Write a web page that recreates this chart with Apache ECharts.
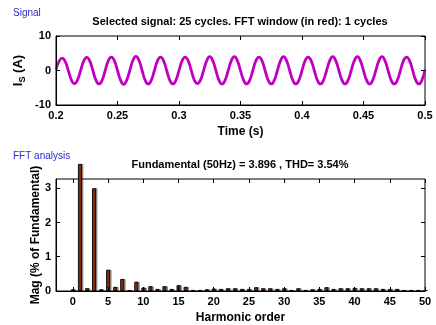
<!DOCTYPE html>
<html>
<head>
<meta charset="utf-8">
<script src="https://cdn.jsdelivr.net/npm/echarts@6/dist/echarts.min.js"></script>
<style>
  html, body { margin: 0; padding: 0; background: #fff; }
  #chart { width: 436px; height: 325px; }
</style>
</head>
<body>
<div id="chart"></div>
<script>
// 信号数据 (Is, A)，采样步长 0.0025 s，每周期 8 点
var startTime = 0.2;
var sampleStep = 0.0025;
var signalValues = [
  0.3, 2.7, 3.6, 2.6, 0, -2.7, -3.8, -2.7,
  0, 2.7, 3.8, 2.7, 0, -2.8, -3.9, -2.8,
  0, 2.8, 3.9, 2.8, 0, -2.8, -4.0, -2.8,
  0, 2.9, 4.1, 2.9, 0, -2.8, -3.9, -2.8,
  0, 2.8, 3.9, 2.8, 0, -2.8, -3.9, -2.8,
  0, 2.8, 3.9, 2.8, 0, -2.8, -3.8, -2.7,
  0, 2.8, 4.0, 2.8, 0, -2.8, -3.9, -2.8,
  0, 2.8, 4.0, 2.8, 0, -2.8, -3.9, -2.8,
  0, 2.8, 3.9, 2.8, 0, -2.8, -3.9, -2.8,
  0, 2.8, 4.0, 2.8, 0, -2.8, -3.9, -2.8,
  0, 2.8, 3.9, 2.8, 0, -2.8, -3.9, -2.8,
  0, 2.8, 4.0, 2.8, 0, -2.8, -3.9, -2.8,
  0, 2.8, 4.0, 2.8, 0, -2.8, -3.9, -2.8,
  0, 2.8, 4.0, 2.8, 0, -2.8, -3.9, -2.8,
  0, 2.8, 3.9, 2.8, 0, -2.8, -3.9, -2.8,
  0.2
];
var timeTicks = [0.2, 0.25, 0.3, 0.35, 0.4, 0.45, 0.5];
var signalYTicks = [-10, 0, 10];

// FFT 数据 (% of Fundamental)，谐波次数 0..50
var harmonicOrders = [];
for (var h = 0; h <= 50; h++) harmonicOrders.push(h);
var harmonicMags = [
  0.05, 3.71, 0.08, 3.0, 0.05, 0.62, 0.12, 0.35, 0.03, 0.27,
  0.10, 0.14, 0.06, 0.14, 0.06, 0.17, 0.12, 0.03, 0.03, 0.05,
  0.07, 0.06, 0.08, 0.08, 0.06, 0.06, 0.11, 0.08, 0.08, 0.06,
  0.08, 0.03, 0.08, 0.03, 0.05, 0.06, 0.11, 0.06, 0.08, 0.08,
  0.09, 0.08, 0.08, 0.08, 0.06, 0.06, 0.06, 0.03, 0.03, 0.03,
  0.03
];
var harmonicTicks = [0, 5, 10, 15, 20, 25, 30, 35, 40, 45, 50];
var magTicks = [0, 1, 2, 3];

var signalData = signalValues.map(function (v, i) {
  return [startTime + i * sampleStep, v];
});
var fftData = harmonicOrders.map(function (h, i) {
  return [h, harmonicMags[i]];
});

var font = 'Liberation Sans, Arial, sans-serif';
var tickLabel = { color: '#000', fontFamily: font, fontWeight: 'bold', fontSize: 11 };

function mainAxis(base) {
  return Object.assign({
    axisLine: { show: true, onZero: false, lineStyle: { color: '#000', width: 1 } },
    axisTick: { show: true, inside: true, length: 4, lineStyle: { color: '#000' } },
    splitLine: { show: false },
    nameMoveOverlap: false,
    z: 5
  }, base);
}
function mirrorAxis(base) {
  return Object.assign({
    axisLine: { show: false, onZero: false },
    axisLabel: { show: false },
    axisTick: { show: true, inside: true, length: 4, lineStyle: { color: '#000' } },
    splitLine: { show: false },
    z: 5
  }, base);
}

var chart = echarts.init(document.getElementById('chart'), null, { renderer: 'canvas' });

var option = {
  backgroundColor: '#fff',
  animation: false,
  textStyle: { fontFamily: font },
  grid: [
    { left: 56, right: 11, top: 36, height: 69, show: true, borderColor: '#000', borderWidth: 1, backgroundColor: '#fff' },
    { left: 56, right: 11, top: 179, height: 112, show: true, borderColor: '#000', borderWidth: 1, backgroundColor: '#fff' }
  ],
  graphic: [
    { type: 'text', left: 13, top: 8, style: { text: 'Signal', fill: '#2a2ac8', font: '10px ' + font } },
    { type: 'text', left: 13, top: 151, style: { text: 'FFT analysis', fill: '#2a2ac8', font: '10px ' + font } },
    { type: 'text', x: 240, y: 22, style: { text: 'Selected signal: 25 cycles. FFT window (in red): 1 cycles', fill: '#000', font: 'bold 11px ' + font, textAlign: 'center', textVerticalAlign: 'middle' } },
    { type: 'text', x: 240, y: 165, style: { text: 'Fundamental (50Hz) = 3.896 , THD= 3.54%', fill: '#000', font: 'bold 11px ' + font, textAlign: 'center', textVerticalAlign: 'middle' } }
  ],
  xAxis: [
    mainAxis({
      type: 'value', gridIndex: 0, min: 0.2, max: 0.5, interval: 0.05,
      axisLabel: Object.assign({ margin: 5 }, tickLabel),
      name: 'Time (s)', nameLocation: 'middle', nameGap: 21,
      nameTextStyle: { color: '#000', fontFamily: font, fontWeight: 'bold', fontSize: 12 }
    }),
    mirrorAxis({ type: 'value', gridIndex: 0, position: 'top', min: 0.2, max: 0.5, interval: 0.05 }),
    mainAxis({
      type: 'value', gridIndex: 1, min: -2.4, max: 50,
      axisTick: { show: true, inside: true, length: 4, customValues: harmonicTicks, lineStyle: { color: '#000' } },
      axisLabel: Object.assign({ margin: 5, customValues: harmonicTicks }, tickLabel),
      name: 'Harmonic order', nameLocation: 'middle', nameGap: 21,
      nameTextStyle: { color: '#000', fontFamily: font, fontWeight: 'bold', fontSize: 12 }
    }),
    mirrorAxis({
      type: 'value', gridIndex: 1, position: 'top', min: -2.4, max: 50,
      axisTick: { show: true, inside: true, length: 4, customValues: harmonicTicks, lineStyle: { color: '#000' } }
    })
  ],
  yAxis: [
    mainAxis({
      type: 'value', gridIndex: 0, min: -10, max: 10, interval: 10,
      axisLabel: Object.assign({ margin: 5 }, tickLabel),
      name: '{i|I}{s|S}{i| (A)}', nameLocation: 'middle', nameGap: 29,
      nameTextStyle: {
        rich: {
          i: { color: '#000', fontFamily: font, fontWeight: 'bold', fontSize: 13, lineHeight: 18 },
          s: { color: '#000', fontFamily: font, fontWeight: 'bold', fontSize: 9, lineHeight: 18, verticalAlign: 'bottom' }
        }
      }
    }),
    mirrorAxis({ type: 'value', gridIndex: 0, position: 'right', min: -10, max: 10, interval: 10 }),
    mainAxis({
      type: 'value', gridIndex: 1, min: 0, max: 3.27,
      axisTick: { show: true, inside: true, length: 4, customValues: magTicks, lineStyle: { color: '#000' } },
      axisLabel: Object.assign({ margin: 5, customValues: magTicks }, tickLabel),
      name: 'Mag (% of Fundamental)', nameLocation: 'middle', nameGap: 14,
      nameTextStyle: { color: '#000', fontFamily: font, fontWeight: 'bold', fontSize: 12 }
    }),
    mirrorAxis({
      type: 'value', gridIndex: 1, position: 'right', min: 0, max: 3.27,
      axisTick: { show: true, inside: true, length: 4, customValues: magTicks, lineStyle: { color: '#000' } }
    })
  ],
  series: [
    {
      type: 'line', xAxisIndex: 0, yAxisIndex: 0,
      data: signalData, smooth: 0.5, showSymbol: false,
      lineStyle: { color: '#c000c0', width: 2.8 }
    },
    {
      type: 'bar', xAxisIndex: 2, yAxisIndex: 2,
      data: fftData, barWidth: 4, clip: false,
      itemStyle: {
        color: '#9c360c', borderColor: '#000', borderWidth: 0.9,
        shadowColor: 'rgba(0,0,0,0.35)', shadowOffsetX: 1.5, shadowBlur: 0
      }
    }
  ]
};

chart.setOption(option);
</script>
</body>
</html>
